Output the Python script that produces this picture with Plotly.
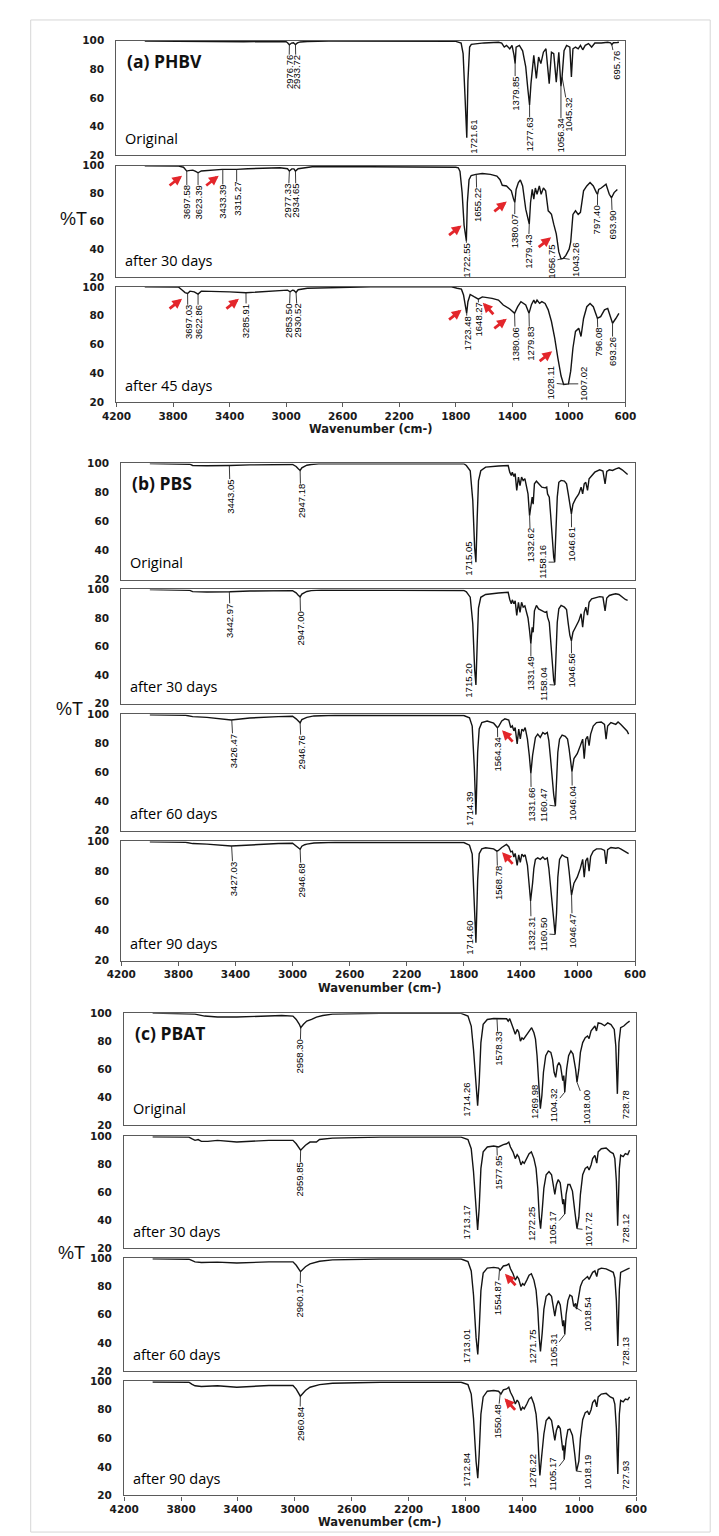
import numpy as np
import plotly.graph_objects as go

W, H = 719, 1536

WAVENUMBER_TICKS = [4200, 3800, 3400, 3000, 2600, 2200, 1800, 1400, 1000, 600]
TRANSMITTANCE_TICKS = [20, 40, 60, 80, 100]

# ---------------- spectra: (wavenumber cm-1, %T) ----------------
PHBV_ORIGINAL = [
    (4000, 99.8), (3700, 99.6), (3600, 99.2), (3450, 99.0), (3300, 99.3), (3100, 99.5), (3000, 99.3),
    (2990, 98.6), (2977, 97.2), (2962, 98.4), (2948, 98.6), (2934, 97.3), (2920, 98.5), (2900, 99.2),
    (2850, 99.5), (2700, 99.8), (2000, 99.8), (1800, 99.6), (1762, 98.4), (1748, 91.0), (1735, 62.0),
    (1722, 32.0), (1714, 72.0), (1702, 95.6), (1690, 97.5), (1600, 98.5), (1498, 99.0), (1475, 98.4),
    (1457, 95.6), (1441, 96.8), (1418, 94.4), (1402, 96.8), (1388, 90.0), (1380, 84.0), (1373, 95.6),
    (1350, 96.8), (1327, 93.0), (1305, 81.7), (1290, 66.0), (1278, 55.0), (1268, 70.0), (1248, 89.8),
    (1230, 73.6), (1214, 88.6), (1198, 84.0), (1180, 92.0), (1162, 94.4), (1139, 70.0), (1123, 92.0),
    (1107, 91.0), (1089, 71.0), (1071, 92.0), (1056, 68.0), (1048, 74.7), (1034, 93.0), (1016, 96.8),
    (993, 95.6), (982, 74.7), (971, 94.4), (953, 95.6), (934, 94.4), (918, 96.8), (902, 93.7),
    (884, 96.8), (861, 98.0), (839, 95.6), (816, 98.4), (771, 98.4), (725, 99.0), (705, 98.6),
    (696, 97.3), (685, 98.6), (657, 98.8), (646, 99.0),
]
PHBV_30D = [
    (4000, 100), (3760, 99.8), (3726, 99.0), (3703, 96.2), (3690, 96.5), (3660, 96.9), (3640, 96.0),
    (3623, 95.0), (3600, 96.3), (3543, 96.9), (3452, 97.4), (3350, 97.4), (3270, 97.9), (3043, 98.6),
    (2990, 97.9), (2977, 96.2), (2960, 97.8), (2945, 97.8), (2934, 96.2), (2915, 97.9), (2815, 99.3),
    (2407, 99.3), (1830, 99.3), (1800, 99.0), (1782, 98.6), (1770, 96.0), (1755, 80.7), (1741, 57.0),
    (1725, 46.0), (1718, 73.6), (1706, 90.0), (1691, 93.0), (1657, 93.8), (1612, 94.5), (1555, 93.8),
    (1509, 92.6), (1487, 90.0), (1471, 86.0), (1441, 85.5), (1407, 82.0), (1391, 76.0), (1382, 73.6),
    (1373, 83.0), (1357, 88.0), (1343, 89.8), (1327, 85.5), (1305, 68.8), (1289, 60.0), (1280, 58.0),
    (1271, 73.6), (1259, 83.0), (1248, 76.0), (1237, 84.0), (1225, 79.5), (1209, 85.5), (1196, 79.5),
    (1180, 84.0), (1164, 82.0), (1146, 67.6), (1134, 66.4), (1123, 65.0), (1107, 58.0), (1089, 51.0),
    (1071, 38.0), (1055, 33.0), (1039, 33.4), (1021, 35.5), (998, 40.0), (987, 45.0), (971, 65.0),
    (953, 67.6), (934, 65.0), (918, 66.5), (896, 82.0), (873, 85.5), (850, 88.0), (827, 85.5),
    (805, 80.7), (797, 79.5), (789, 83.0), (771, 84.0), (737, 86.7), (714, 79.5), (698, 77.0),
    (680, 80.7), (657, 83.0),
]
PHBV_45D = [
    (4000, 100), (3760, 99.8), (3734, 97.7), (3715, 96.0), (3697, 95.4), (3680, 97.0), (3650, 96.5),
    (3623, 95.0), (3600, 97.0), (3498, 97.0), (3400, 96.5), (3284, 95.9), (3136, 97.0), (2990, 97.7),
    (2972, 96.6), (2955, 97.7), (2945, 97.5), (2930, 96.1), (2915, 98.0), (2850, 99.0), (2400, 100),
    (1830, 100), (1790, 99.0), (1760, 98.4), (1745, 94.3), (1732, 86.2), (1723, 81.6), (1714, 89.7),
    (1698, 94.7), (1668, 93.0), (1640, 91.5), (1612, 93.0), (1577, 92.5), (1543, 92.0), (1498, 90.8),
    (1464, 87.4), (1418, 84.6), (1384, 81.6), (1362, 86.2), (1339, 89.7), (1305, 87.4), (1282, 81.6),
    (1264, 87.8), (1248, 90.8), (1237, 88.5), (1225, 90.8), (1207, 88.5), (1191, 89.7), (1168, 88.5),
    (1146, 84.0), (1123, 75.9), (1100, 64.4), (1078, 50.6), (1055, 38.0), (1037, 32.2), (1021, 32.2),
    (1003, 32.6), (987, 41.4), (971, 57.5), (953, 69.0), (930, 71.3), (914, 65.5), (896, 78.0),
    (873, 86.2), (850, 88.5), (827, 86.2), (798, 78.2), (775, 79.3), (748, 84.0), (725, 85.0),
    (691, 74.7), (668, 78.0), (646, 81.6),
]
PBS_ORIGINAL = [
    (4000, 100), (3720, 99.5), (3700, 98.6), (3600, 98.4), (3440, 98.6), (3300, 99.0), (3000, 99.3),
    (2975, 97.9), (2960, 96.3), (2947, 95.2), (2935, 97.0), (2920, 97.9), (2910, 98.5), (2900, 98.8),
    (2870, 99.3), (2800, 100), (1800, 99.8), (1782, 98.6), (1755, 95.0), (1737, 74.5), (1724, 42.0),
    (1715, 32.0), (1706, 63.0), (1697, 88.0), (1681, 95.0), (1647, 97.5), (1557, 98.2), (1489, 98.6),
    (1478, 94.0), (1467, 91.7), (1460, 94.0), (1449, 91.0), (1440, 93.0), (1429, 81.4), (1417, 90.6),
    (1406, 84.8), (1395, 90.6), (1384, 88.3), (1372, 89.5), (1361, 84.8), (1350, 79.0), (1339, 64.0),
    (1327, 74.5), (1321, 76.8), (1314, 72.0), (1305, 86.0), (1291, 87.8), (1276, 86.0), (1253, 83.7),
    (1231, 83.2), (1219, 83.7), (1213, 79.0), (1201, 76.8), (1192, 65.3), (1181, 47.0), (1170, 35.4),
    (1163, 32.0), (1154, 51.5), (1145, 76.8), (1134, 87.0), (1118, 88.3), (1095, 87.8), (1080, 86.0),
    (1068, 79.0), (1057, 70.0), (1046, 65.3), (1035, 72.0), (1017, 75.6), (994, 79.0), (978, 83.7),
    (967, 79.0), (956, 86.0), (945, 87.0), (933, 81.4), (922, 89.5), (904, 91.7), (882, 94.0),
    (848, 95.6), (825, 94.8), (810, 86.0), (798, 94.5), (780, 95.6), (758, 95.2), (735, 96.3),
    (713, 97.0), (690, 95.6), (668, 94.0), (652, 92.4),
]
PBS_30D = [
    (4000, 100), (3720, 99.4), (3700, 98.5), (3600, 98.2), (3440, 98.4), (3300, 98.9), (3000, 99.2),
    (2975, 97.6), (2960, 96.0), (2947, 94.8), (2935, 96.8), (2920, 97.6), (2910, 98.3), (2900, 98.6),
    (2870, 99.2), (2800, 99.6), (1800, 99.3), (1782, 98.4), (1755, 94.6), (1737, 76.0), (1724, 44.0),
    (1715, 33.0), (1706, 62.0), (1697, 87.0), (1681, 94.5), (1647, 96.5), (1557, 97.5), (1489, 98.0),
    (1478, 93.0), (1467, 90.0), (1460, 92.7), (1449, 90.0), (1440, 92.0), (1429, 81.8), (1417, 91.0),
    (1406, 84.0), (1395, 91.0), (1384, 87.6), (1372, 88.5), (1361, 85.0), (1350, 80.0), (1339, 71.0),
    (1330, 62.0), (1321, 73.5), (1314, 70.0), (1305, 85.0), (1291, 88.8), (1276, 86.4), (1253, 85.0),
    (1231, 84.0), (1219, 84.5), (1213, 80.6), (1201, 77.0), (1192, 66.5), (1181, 48.0), (1170, 36.0),
    (1162, 33.0), (1154, 52.0), (1145, 77.0), (1134, 86.4), (1118, 88.8), (1095, 87.6), (1080, 86.0),
    (1068, 76.0), (1057, 68.0), (1046, 64.0), (1035, 70.0), (1017, 73.5), (994, 78.0), (978, 83.0),
    (967, 73.5), (956, 84.0), (945, 87.6), (933, 82.0), (922, 91.0), (904, 93.4), (882, 94.0),
    (848, 95.0), (825, 94.6), (810, 85.0), (798, 94.0), (780, 95.8), (758, 96.5), (735, 97.0),
    (713, 96.5), (690, 94.6), (668, 93.0), (652, 92.3),
]
PBS_60D = [
    (4000, 99.8), (3750, 99.5), (3700, 98.5), (3600, 98.0), (3430, 96.2), (3300, 97.6), (3100, 98.5),
    (3000, 98.8), (2975, 97.0), (2960, 95.5), (2947, 94.3), (2935, 96.5), (2915, 97.6), (2900, 98.0),
    (2850, 99.0), (2700, 99.5), (1800, 99.3), (1760, 97.7), (1741, 92.0), (1726, 62.8), (1715, 31.0),
    (1703, 74.0), (1692, 90.0), (1674, 94.4), (1636, 95.5), (1591, 94.0), (1565, 91.0), (1557, 91.5),
    (1534, 95.5), (1512, 97.0), (1485, 96.2), (1471, 91.0), (1460, 92.1), (1449, 88.7), (1440, 91.0),
    (1426, 79.7), (1415, 89.9), (1404, 83.1), (1393, 89.9), (1381, 88.7), (1370, 91.0), (1354, 83.0),
    (1341, 71.8), (1330, 59.4), (1318, 71.8), (1309, 78.6), (1298, 84.2), (1282, 86.5), (1264, 84.2),
    (1246, 87.6), (1231, 86.5), (1215, 87.6), (1204, 82.0), (1192, 69.6), (1181, 53.8), (1170, 44.8),
    (1158, 36.9), (1150, 51.5), (1141, 74.0), (1129, 83.0), (1111, 85.8), (1089, 84.9), (1073, 83.0),
    (1062, 76.3), (1050, 67.3), (1042, 60.6), (1028, 69.6), (1005, 73.0), (983, 78.6), (967, 83.0),
    (956, 69.6), (945, 83.0), (933, 84.9), (922, 78.6), (911, 86.5), (893, 92.0), (870, 94.4),
    (837, 94.8), (814, 93.2), (803, 83.0), (792, 92.0), (769, 94.4), (735, 93.2), (719, 94.8),
    (701, 93.2), (679, 91.0), (656, 88.7), (645, 86.5),
]
PBS_90D = [
    (4000, 99.8), (3750, 99.5), (3700, 98.6), (3600, 98.2), (3430, 97.0), (3300, 97.8), (3100, 98.6),
    (3000, 98.8), (2975, 97.2), (2960, 95.8), (2947, 94.8), (2935, 96.8), (2915, 97.8), (2900, 98.2),
    (2850, 99.0), (2700, 99.5), (1800, 99.3), (1760, 97.5), (1741, 91.5), (1726, 62.0), (1715, 32.0),
    (1703, 74.0), (1692, 91.8), (1674, 95.0), (1647, 95.8), (1591, 95.0), (1568, 93.5), (1557, 94.0),
    (1534, 96.0), (1501, 98.0), (1485, 96.5), (1471, 93.0), (1460, 93.5), (1449, 89.6), (1440, 92.0),
    (1426, 84.0), (1415, 91.0), (1404, 86.0), (1393, 91.5), (1381, 90.0), (1370, 91.0), (1354, 84.0),
    (1341, 72.0), (1332, 60.0), (1318, 72.0), (1309, 82.0), (1298, 88.0), (1282, 89.0), (1264, 88.0),
    (1246, 89.6), (1231, 88.0), (1215, 89.0), (1204, 82.0), (1192, 70.0), (1181, 54.0), (1170, 45.0),
    (1160, 37.5), (1150, 52.0), (1141, 76.0), (1129, 88.0), (1111, 91.0), (1089, 89.6), (1073, 89.0),
    (1062, 80.0), (1050, 71.0), (1045, 64.0), (1028, 72.0), (1005, 76.0), (983, 82.0), (967, 88.0),
    (956, 76.0), (945, 87.0), (933, 89.0), (922, 80.0), (911, 90.0), (893, 93.5), (870, 95.0),
    (837, 95.0), (814, 94.0), (803, 85.0), (792, 94.5), (769, 96.0), (735, 95.5), (719, 95.8),
    (701, 95.0), (679, 93.5), (656, 92.5), (645, 91.8),
]
PBAT_ORIGINAL = [
    (4000, 100), (3760, 99.8), (3702, 99.3), (3634, 97.9), (3544, 97.2), (3408, 97.2), (3272, 97.9),
    (3092, 98.3), (3013, 97.9), (2990, 95.5), (2968, 92.0), (2958, 89.6), (2939, 92.0), (2916, 94.3),
    (2882, 95.5), (2848, 97.2), (2803, 98.3), (2735, 99.3), (2400, 99.8), (1830, 99.8), (1782, 97.9),
    (1759, 90.8), (1743, 74.0), (1725, 46.0), (1714, 34.0), (1703, 50.7), (1691, 79.0), (1675, 92.0),
    (1646, 95.5), (1601, 96.2), (1567, 96.0), (1510, 96.0), (1499, 94.3), (1488, 96.0), (1465, 89.6),
    (1449, 85.0), (1436, 88.4), (1425, 86.5), (1413, 80.0), (1402, 82.3), (1391, 81.4), (1375, 83.7),
    (1352, 86.5), (1334, 89.6), (1318, 86.0), (1307, 81.4), (1296, 69.6), (1284, 48.3), (1273, 31.8),
    (1262, 41.2), (1251, 57.8), (1235, 69.6), (1217, 73.0), (1199, 72.0), (1187, 67.0), (1176, 57.8),
    (1165, 54.2), (1153, 62.5), (1142, 64.8), (1131, 62.5), (1122, 55.4), (1115, 51.9), (1108, 55.4),
    (1101, 43.6), (1088, 60.0), (1074, 69.6), (1058, 73.0), (1043, 70.8), (1025, 60.0), (1015, 50.7),
    (1002, 60.0), (991, 72.0), (975, 79.0), (957, 82.5), (941, 83.7), (930, 81.8), (916, 87.3),
    (900, 89.6), (889, 90.8), (878, 87.3), (866, 93.0), (844, 92.5), (821, 91.0), (799, 93.0),
    (776, 91.8), (753, 88.4), (742, 76.6), (731, 42.4), (720, 79.0), (708, 89.6), (686, 90.8),
    (663, 93.0), (645, 94.3),
]
PBAT_30D = [
    (4000, 99.5), (3745, 99.3), (3725, 98.2), (3702, 97.0), (3680, 97.6), (3657, 96.3), (3612, 96.3),
    (3544, 97.0), (3408, 95.8), (3182, 97.0), (3013, 97.0), (2990, 94.6), (2959, 90.0), (2925, 93.5),
    (2893, 95.8), (2848, 95.8), (2826, 97.6), (2735, 98.6), (2400, 99.3), (1830, 99.3), (1782, 97.6),
    (1759, 91.0), (1743, 74.8), (1725, 44.5), (1714, 33.0), (1703, 49.0), (1691, 77.0), (1675, 88.8),
    (1646, 92.3), (1601, 93.0), (1567, 92.3), (1533, 94.0), (1510, 94.6), (1495, 95.8), (1483, 92.3),
    (1465, 88.8), (1449, 84.0), (1436, 86.8), (1425, 85.2), (1409, 79.5), (1398, 81.8), (1386, 80.6),
    (1368, 84.0), (1352, 87.5), (1336, 88.8), (1318, 84.0), (1303, 77.0), (1291, 63.0), (1280, 42.0),
    (1271, 34.0), (1260, 46.9), (1248, 63.0), (1232, 72.5), (1212, 74.8), (1194, 72.5), (1183, 65.5),
    (1171, 58.5), (1160, 65.5), (1147, 69.0), (1133, 66.8), (1122, 57.5), (1115, 51.5), (1108, 55.0),
    (1101, 44.5), (1092, 58.5), (1079, 65.5), (1065, 65.5), (1047, 60.8), (1031, 46.9), (1015, 34.0),
    (1002, 42.0), (991, 58.5), (975, 72.5), (957, 77.0), (941, 78.2), (930, 75.9), (916, 79.4),
    (905, 84.0), (889, 86.3), (876, 80.7), (866, 88.8), (844, 91.0), (810, 91.5), (781, 88.8),
    (760, 87.6), (749, 84.0), (738, 67.8), (729, 36.0), (717, 77.0), (708, 86.5), (690, 85.4),
    (675, 87.6), (658, 86.9), (645, 90.0),
]
PBAT_60D = [
    (4000, 99.5), (3745, 99.3), (3725, 98.4), (3702, 97.4), (3657, 97.0), (3544, 97.2), (3408, 96.6),
    (3182, 97.4), (3013, 97.4), (2990, 95.0), (2960, 90.5), (2925, 94.0), (2893, 96.0), (2826, 97.8),
    (2735, 98.8), (2400, 99.4), (1830, 99.4), (1782, 97.6), (1759, 91.0), (1743, 74.0), (1725, 44.0),
    (1713, 32.0), (1703, 49.0), (1691, 77.0), (1675, 89.5), (1646, 93.0), (1601, 93.5), (1567, 93.0),
    (1555, 91.5), (1533, 94.5), (1510, 95.0), (1495, 96.0), (1483, 92.5), (1465, 89.0), (1449, 84.5),
    (1436, 87.0), (1425, 85.5), (1409, 80.0), (1398, 82.0), (1386, 81.0), (1368, 84.5), (1352, 88.0),
    (1336, 89.0), (1318, 84.5), (1303, 77.5), (1291, 64.0), (1280, 43.0), (1272, 34.0), (1260, 47.0),
    (1248, 64.0), (1232, 73.0), (1212, 75.0), (1194, 73.0), (1183, 66.0), (1171, 59.0), (1160, 66.0),
    (1147, 70.0), (1133, 67.0), (1122, 58.0), (1115, 52.0), (1108, 56.0), (1101, 46.0), (1092, 60.0),
    (1079, 70.0), (1065, 74.0), (1050, 73.0), (1038, 66.0), (1025, 68.0), (1018, 64.0), (1005, 72.0),
    (991, 80.0), (975, 84.0), (957, 86.0), (941, 87.0), (930, 85.0), (916, 88.0), (905, 90.0),
    (889, 91.0), (876, 87.0), (866, 92.0), (844, 93.0), (810, 92.5), (781, 91.0), (760, 90.0),
    (749, 86.0), (738, 70.0), (728, 38.0), (717, 78.0), (708, 90.0), (690, 91.0), (675, 92.0),
    (658, 92.5), (645, 93.0),
]
PBAT_90D = [
    (4000, 99.5), (3745, 99.3), (3725, 98.0), (3702, 96.8), (3657, 96.3), (3544, 96.8), (3408, 95.8),
    (3182, 97.0), (3013, 97.0), (2990, 94.5), (2961, 89.5), (2925, 93.5), (2893, 95.8), (2826, 97.6),
    (2735, 98.6), (2400, 99.3), (1830, 99.3), (1782, 97.6), (1759, 91.0), (1743, 74.0), (1725, 44.0),
    (1713, 32.0), (1703, 49.0), (1691, 77.0), (1675, 89.0), (1646, 93.0), (1601, 93.5), (1567, 93.0),
    (1550, 91.0), (1533, 94.0), (1510, 94.6), (1495, 95.8), (1483, 92.3), (1465, 88.8), (1449, 84.0),
    (1436, 86.8), (1425, 85.2), (1409, 79.5), (1398, 81.8), (1386, 80.6), (1368, 84.0), (1352, 87.5),
    (1336, 88.8), (1318, 84.0), (1303, 77.0), (1291, 63.0), (1282, 44.0), (1276, 34.0), (1264, 46.9),
    (1248, 63.0), (1232, 72.5), (1212, 74.8), (1194, 72.5), (1183, 65.5), (1171, 58.5), (1160, 65.5),
    (1147, 69.0), (1133, 66.8), (1122, 57.5), (1115, 51.5), (1108, 55.0), (1105, 45.0), (1092, 58.5),
    (1079, 66.0), (1065, 66.5), (1047, 62.0), (1031, 49.0), (1018, 37.0), (1002, 44.0), (991, 60.0),
    (975, 73.0), (957, 78.0), (941, 79.0), (930, 76.5), (916, 80.0), (905, 85.0), (889, 87.0),
    (876, 82.0), (866, 89.0), (844, 91.0), (810, 91.5), (781, 89.0), (760, 88.0), (749, 84.0),
    (738, 67.0), (728, 35.0), (717, 77.0), (708, 86.5), (690, 85.5), (675, 87.5), (658, 87.0),
    (645, 89.0),
]

# ---------------- peak labels: (text, anchor cm-1, text cm-1, text %T, leader line) ----------------
PHBV_ORIGINAL_PEAKS = [
    ("2976.76", 2977, 2980, 78, True), ("2933.72", 2934, 2930, 78, True),
    ("1721.61", 1722, 1675, 33, False), ("1379.85", 1380, 1380, 63, True),
    ("1277.63", 1278, 1277, 34, True), ("1056.34", 1056, 1056, 33.5, True),
    ("1045.32", 1048, 1000, 48, True), ("695.76", 696, 668, 83, True),
]
PHBV_30D_PEAKS = [
    ("3697.58", 3703, 3702, 73.6, True), ("3623.39", 3623, 3623, 73.6, True),
    ("3433.39", 3448, 3448, 74, True), ("3315.27", 3350, 3350, 76, True),
    ("2977.33", 2977, 2986, 74.8, True), ("2934.65", 2934, 2930, 74.8, True),
    ("1722.55", 1725, 1725, 32, True), ("1655.22", 1655, 1650, 71.7, True),
    ("1380.07", 1382, 1384, 52.6, True), ("1279.43", 1280, 1287, 38.3, True),
    ("1056.75", 1055, 1123, 31.2, True), ("1043.26", 1039, 952, 32, True),
    ("797.40", 797, 798, 61, True), ("693.90", 698, 691, 57.4, True),
]
PHBV_45D_PEAKS = [
    ("3697.03", 3697, 3695, 75.4, True), ("3622.86", 3623, 3623, 75.4, True),
    ("3285.91", 3284, 3282, 76.3, True), ("2853.50", 2972, 2980, 76.3, True),
    ("2930.52", 2930, 2918, 76.3, True), ("1723.48", 1723, 1718, 67.8, True),
    ("1648.27", 1640, 1639, 77, True), ("1380.06", 1384, 1378, 60.2, True),
    ("1279.83", 1282, 1277, 60.2, True), ("1028.11", 1028, 1128, 33.3, True),
    ("1007.02", 1005, 891, 32.6, True), ("796.08", 798, 793, 61.4, True),
    ("693.26", 691, 691, 55, True),
]
PBS_ORIGINAL_PEAKS = [
    ("3443.05", 3443, 3437, 77.2, True), ("2947.18", 2947, 2942, 74, True),
    ("1715.05", 1715, 1764, 34.2, False), ("1332.62", 1339, 1332, 43.4, True),
    ("1158.16", 1163, 1248, 32, True), ("1046.61", 1046, 1044, 44, True),
]
PBS_30D_PEAKS = [
    ("3442.97", 3443, 3437, 78, True), ("2947.00", 2947, 2942, 72.5, True),
    ("1715.20", 1715, 1764, 36, False), ("1331.49", 1330, 1330, 41, True),
    ("1158.04", 1162, 1241, 33.5, True), ("1046.56", 1046, 1044, 43, True),
]
PBS_60D_PEAKS = [
    ("3426.47", 3426, 3414, 75, True), ("2946.76", 2947, 2938, 74, True),
    ("1714.39", 1715, 1760, 34.6, False), ("1564.34", 1564, 1561, 72.3, True),
    ("1331.66", 1330, 1327, 38, True), ("1160.47", 1158, 1242, 38, True),
    ("1046.04", 1042, 1039, 39, True),
]
PBS_90D_PEAKS = [
    ("3427.03", 3427, 3414, 75, True), ("2946.68", 2947, 2938, 74, True),
    ("1714.60", 1715, 1760, 35, False), ("1568.78", 1568, 1561, 72, True),
    ("1332.31", 1332, 1327, 38, True), ("1160.50", 1160, 1242, 38, True),
    ("1046.47", 1045, 1039, 40, True),
]
PBAT_ORIGINAL_PEAKS = [
    ("2958.30", 2958, 2964, 69, True), ("1714.26", 1714, 1793, 38.4, False),
    ("1578.33", 1578, 1567, 74.3, True), ("1269.98", 1273, 1318, 36.5, False),
    ("1104.32", 1101, 1178, 34.2, True), ("1018.00", 1015, 950, 33, True),
    ("728.78", 731, 674, 34.6, False),
]
PBAT_30D_PEAKS = [
    ("2959.85", 2959, 2964, 69, True), ("1713.17", 1714, 1793, 38.7, False),
    ("1577.95", 1578, 1572, 73.7, True), ("1272.25", 1271, 1330, 37.5, False),
    ("1105.17", 1101, 1183, 34.7, True), ("1017.72", 1015, 934, 33, True),
    ("728.12", 729, 674, 34, False),
]
PBAT_60D_PEAKS = [
    ("2960.17", 2960, 2964, 70, True), ("1713.01", 1713, 1793, 38, False),
    ("1554.87", 1560, 1575, 72, True), ("1271.75", 1272, 1330, 37.5, False),
    ("1105.31", 1101, 1183, 35, True), ("1018.54", 1038, 940, 60, True),
    ("728.13", 728, 674, 34, False),
]
PBAT_90D_PEAKS = [
    ("2960.84", 2961, 2964, 70, True), ("1712.84", 1713, 1793, 38, False),
    ("1550.48", 1555, 1575, 72, True), ("1276.22", 1276, 1330, 37, False),
    ("1105.17", 1105, 1183, 35, True), ("1018.19", 1018, 940, 36, True),
    ("727.93", 728, 674, 34, False),
]

# ---------------- red arrows: (tip cm-1, tip %T, direction) ----------------
PHBV_30D_ARROWS = [(3736, 92.9, "ur"), (3477, 92.9, "ur"), (1759, 57.1, "ur"), (1439, 74.3, "ur"), (1125, 48.6, "ur")]
PHBV_45D_ARROWS = [(3736, 91.7, "ur"), (3334, 91.7, "ur"), (1759, 84.1, "ur"), (1609, 89.0, "ul"), (1439, 77.9, "ur"), (1118, 55.2, "ur")]
PBS_60D_ARROWS = [(1532, 89.2, "ul")]
PBS_90D_ARROWS = [(1532, 92.7, "ul")]
PBAT_60D_ARROWS = [(1522, 89.0, "ul")]
PBAT_90D_ARROWS = [(1525, 88.0, "ul")]

# ---------------- layout (pixels) ----------------
GROUP_X = {"a": (97, 625), "b": (102, 635), "c": (105, 636)}
PANELS = [
    dict(g="a", top=27, bot=142, data=PHBV_ORIGINAL, peaks=PHBV_ORIGINAL_PEAKS, arrows=[], cap="Original", title="(a) PHBV"),
    dict(g="a", top=153, bot=265, data=PHBV_30D, peaks=PHBV_30D_PEAKS, arrows=PHBV_30D_ARROWS, cap="after 30 days"),
    dict(g="a", top=275, bot=391, data=PHBV_45D, peaks=PHBV_45D_PEAKS, arrows=PHBV_45D_ARROWS, cap="after 45 days", axis=True),
    dict(g="b", top=453, bot=570, data=PBS_ORIGINAL, peaks=PBS_ORIGINAL_PEAKS, arrows=[], cap="Original", title="(b) PBS"),
    dict(g="b", top=580, bot=695, data=PBS_30D, peaks=PBS_30D_PEAKS, arrows=[], cap="after 30 days"),
    dict(g="b", top=706, bot=823, data=PBS_60D, peaks=PBS_60D_PEAKS, arrows=PBS_60D_ARROWS, cap="after 60 days"),
    dict(g="b", top=834, bot=954, data=PBS_90D, peaks=PBS_90D_PEAKS, arrows=PBS_90D_ARROWS, cap="after 90 days", axis=True),
    dict(g="c", top=1007, bot=1120, data=PBAT_ORIGINAL, peaks=PBAT_ORIGINAL_PEAKS, arrows=[], cap="Original", title="(c) PBAT"),
    dict(g="c", top=1131, bot=1244, data=PBAT_30D, peaks=PBAT_30D_PEAKS, arrows=[], cap="after 30 days"),
    dict(g="c", top=1254, bot=1368, data=PBAT_60D, peaks=PBAT_60D_PEAKS, arrows=PBAT_60D_ARROWS, cap="after 60 days"),
    dict(g="c", top=1378, bot=1493, data=PBAT_90D, peaks=PBAT_90D_PEAKS, arrows=PBAT_90D_ARROWS, cap="after 90 days", axis=True),
]
PCT_T_POS = [(52, 207), (48, 700), (50, 1249)]
XTITLE_POS = [(361, 418), (370, 982), (370, 1520)]

TICK_FONT = dict(family="DejaVu Sans", size=10.5, color="#1a1a1a", weight="bold")
FRAME = "#5a5a5a"

def px(x):
    return x / W

def py(y):
    return 1 - y / H

fig = go.Figure()
layout = {}
annotations = []

for i, p in enumerate(PANELS, start=1):
    xa = "x" if i == 1 else f"x{i}"
    ya = "y" if i == 1 else f"y{i}"
    xk = "xaxis" if i == 1 else f"xaxis{i}"
    yk = "yaxis" if i == 1 else f"yaxis{i}"
    L, R = GROUP_X[p["g"]]
    wn = [q[0] for q in p["data"]]
    tv = [q[1] for q in p["data"]]
    fig.add_trace(go.Scatter(x=wn, y=tv, mode="lines", xaxis=xa, yaxis=ya,
                             line=dict(color="#141414", width=1.4), showlegend=False, hoverinfo="skip"))
    bottom = p.get("axis", False)
    layout[xk] = dict(domain=[px(L), px(R)], range=[4200, 600], anchor=ya,
                      showline=True, mirror=True, linecolor=FRAME, linewidth=1.4,
                      showgrid=False, zeroline=False, tickvals=WAVENUMBER_TICKS,
                      showticklabels=bottom, ticks="outside" if bottom else "",
                      ticklen=4, tickwidth=1.2, tickcolor=FRAME, tickfont=TICK_FONT)
    layout[yk] = dict(domain=[py(p["bot"]), py(p["top"])], range=[20, 100], anchor=xa,
                      showline=True, mirror=True, linecolor=FRAME, linewidth=1.4,
                      showgrid=False, zeroline=False, tickvals=TRANSMITTANCE_TICKS,
                      ticks="outside", ticklen=9, tickcolor="rgba(0,0,0,0)", tickfont=TICK_FONT)

    xs = np.array(wn[::-1], dtype=float)
    ys = np.array(tv[::-1], dtype=float)
    for text, anchor_wn, twn, tT, leader in p["peaks"]:
        head_y = float(np.interp(anchor_wn, xs, ys))
        annotations.append(dict(
            x=anchor_wn, y=head_y, xref=xa, yref=ya, ax=twn, ay=tT, axref=xa, ayref=ya,
            text=text, textangle=-90, showarrow=True, arrowhead=0, arrowwidth=0.9,
            arrowcolor="#222" if leader else "rgba(0,0,0,0)", standoff=0, startstandoff=0,
            font=dict(family="Liberation Sans", size=9.5, color="#000"), borderpad=0))
    for awn, aT, d in p["arrows"]:
        ax, ay = (-14, 11) if d == "ur" else (12, 13)
        annotations.append(dict(
            x=awn, y=aT, xref=xa, yref=ya, ax=ax, ay=ay, text="", showarrow=True,
            arrowhead=2, arrowsize=0.7, arrowwidth=2.8, arrowcolor="#e3262b", standoff=0))

    if "title" in p:
        annotations.append(dict(x=px(L + 9), y=py(p["top"] + 20), xref="paper", yref="paper",
                                xanchor="left", yanchor="middle", showarrow=False, text=p["title"],
                                font=dict(family="Open Sans", size=17.5, color="#111", weight="bold")))
    annotations.append(dict(x=px(L + 7), y=py(p["bot"] - 17), xref="paper", yref="paper",
                            xanchor="left", yanchor="middle", showarrow=False, text=p["cap"],
                            font=dict(family="Open Sans", size=14.5, color="#000")))

for (x, y) in PCT_T_POS:
    annotations.append(dict(x=px(x), y=py(y), xref="paper", yref="paper", showarrow=False,
                            xanchor="center", yanchor="middle",
                            text="%T", font=dict(family="Liberation Sans", size=18, color="#111")))
for (x, y) in XTITLE_POS:
    annotations.append(dict(x=px(x), y=py(y), xref="paper", yref="paper", showarrow=False,
                            xanchor="center", yanchor="middle",
                            text="Wavenumber (cm-)", font=dict(family="DejaVu Sans", size=11.5,
                                                               color="#1a1a1a", weight="bold")))

fig.update_layout(
    width=W, height=H, autosize=False,
    margin=dict(l=0, r=0, t=0, b=0, pad=0),
    paper_bgcolor="white", plot_bgcolor="white",
    annotations=annotations,
    shapes=[dict(type="rect", xref="paper", yref="paper", x0=px(8), x1=px(713), y0=py(1530), y1=py(6),
                 line=dict(color="#d6d6d6", width=1))],
    **layout,
)

fig.write_html("out.html")
